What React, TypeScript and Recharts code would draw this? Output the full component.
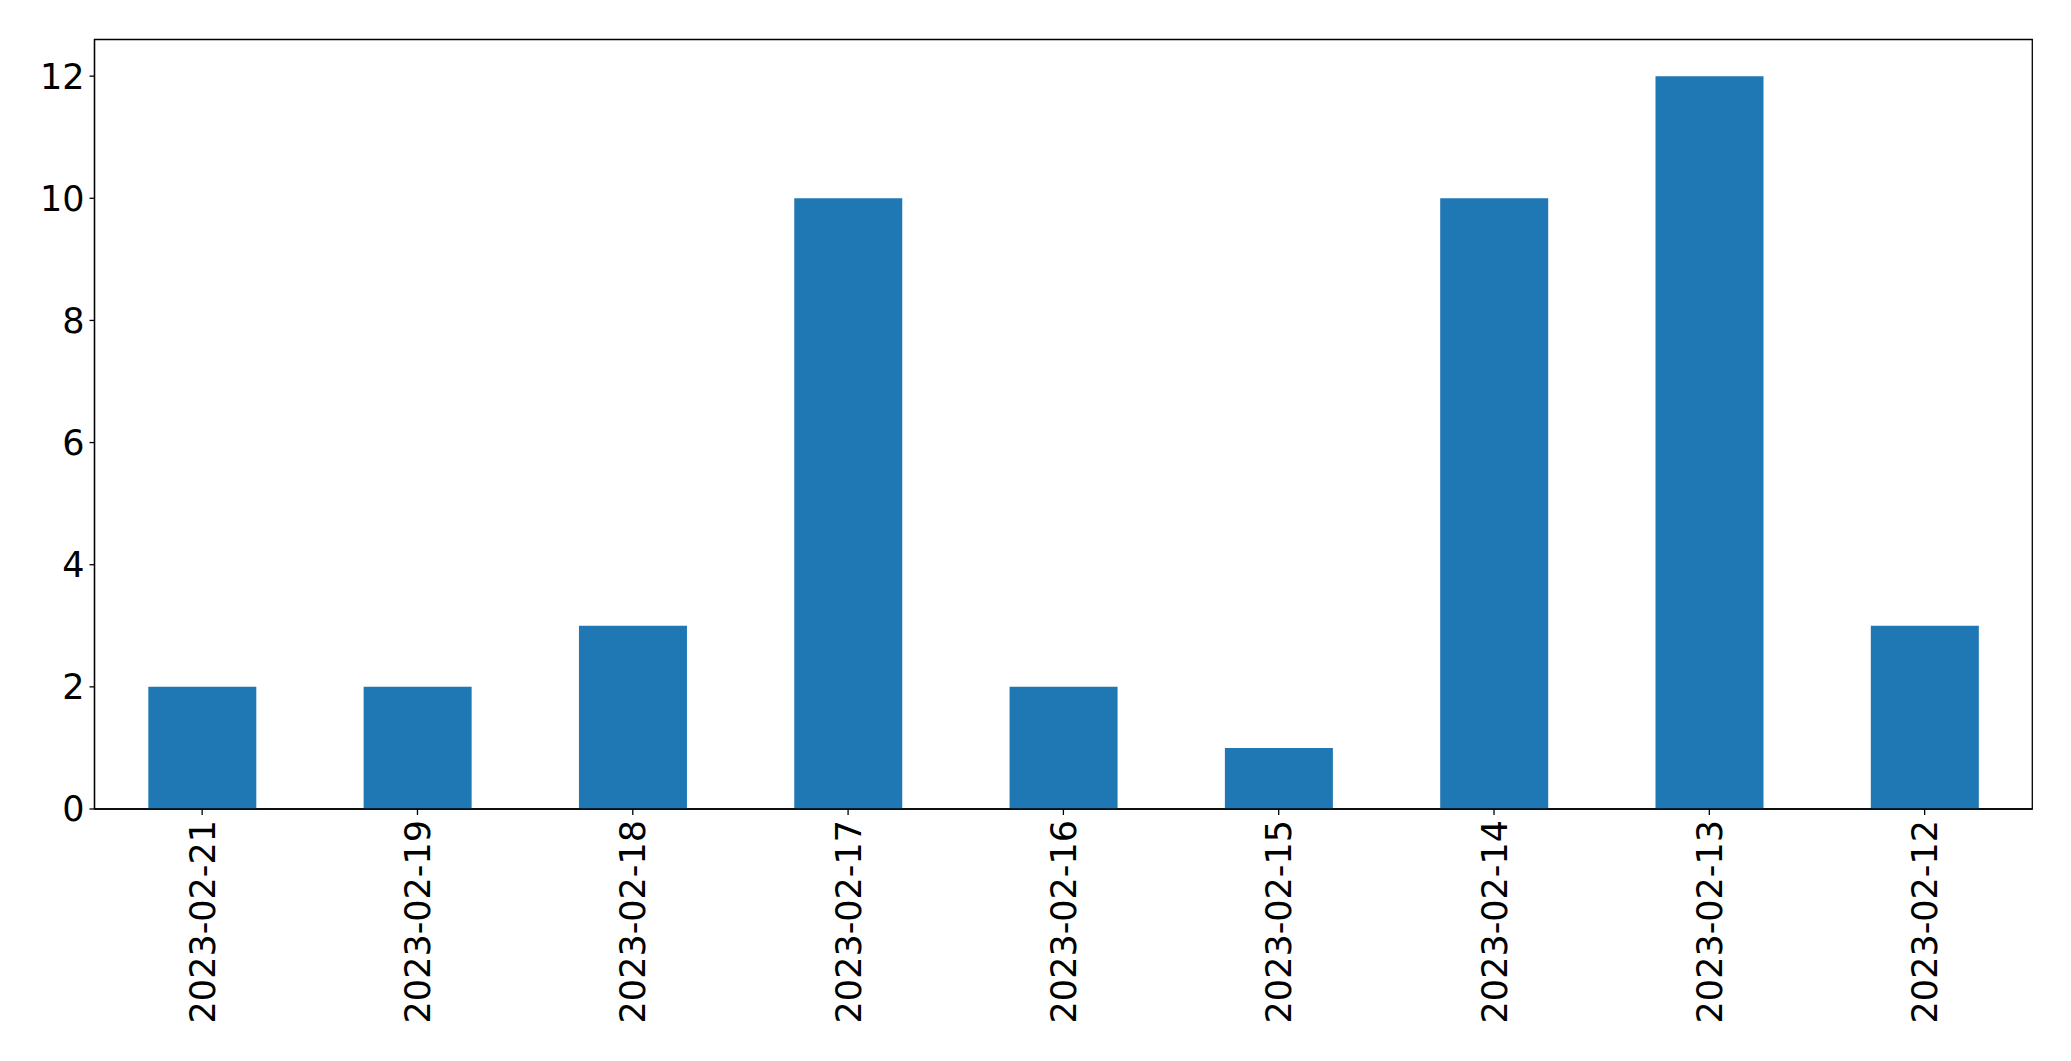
import React from 'react';
import { BarChart, Bar, XAxis, YAxis, ReferenceArea } from 'recharts';

const dates = ['2023-02-21', '2023-02-19', '2023-02-18', '2023-02-17', '2023-02-16', '2023-02-15', '2023-02-14', '2023-02-13', '2023-02-12'];
const counts = [2, 2, 3, 10, 2, 1, 10, 12, 3];
const yTicks = [0, 2, 4, 6, 8, 10, 12];
const yMax = 12.6;

const data = dates.map((d, i) => ({ date: d, count: counts[i] }));

const FONT = 'DejaVu Sans, sans-serif';
const FS = 35;

const DateTick = (props: any) => {
  const { x, y, payload } = props;
  return (
    <g transform={`translate(${x},${y})`}>
      <text transform="rotate(-90)" x={-3} y={0} dy="0.36em" textAnchor="end" fill="#000" fontSize={FS} fontFamily={FONT}>
        {payload.value}
      </text>
    </g>
  );
};

export default function App() {
  return (
    <div style={{ position: 'absolute', left: 0, top: 0, background: '#fff' }}>
      <BarChart
        width={2071}
        height={1061}
        data={data}
        margin={{ top: 39.5, right: 38.7, bottom: 0, left: 0 }}
        barCategoryGap="25%"
      >
        <XAxis
          dataKey="date"
          interval={0}
          height={252}
          tick={<DateTick />}
          tickSize={6}
          tickMargin={2}
          axisLine={{ stroke: '#000', strokeWidth: 1.3 }}
          tickLine={{ stroke: '#000', strokeWidth: 1.3 }}
        />
        <YAxis
          width={94.5}
          domain={[0, yMax]}
          ticks={yTicks}
          interval={0}
          tickSize={5}
          tickMargin={5}
          tick={{ fill: '#000', fontSize: FS, fontFamily: FONT }}
          axisLine={{ stroke: '#000', strokeWidth: 1.3 }}
          tickLine={{ stroke: '#000', strokeWidth: 1.3 }}
        />
        <Bar dataKey="count" fill="#1f77b4" isAnimationActive={false} />
        <ReferenceArea y1={0} y2={yMax} fill="none" fillOpacity={0} stroke="#000" strokeWidth={1.3} ifOverflow="visible" />
      </BarChart>
    </div>
  );
}
